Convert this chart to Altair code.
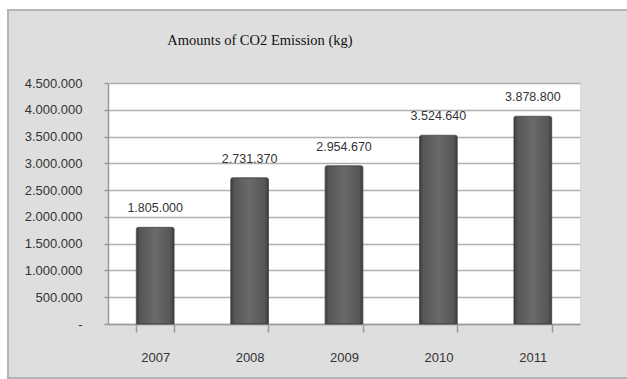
import altair as alt
import pandas as pd

years = ["2007", "2008", "2009", "2010", "2011"]
emissions = [1805000, 2731370, 2954670, 3524640, 3878800]
y_ticks = [0, 500000, 1000000, 1500000, 2000000, 2500000, 3000000, 3500000, 4000000, 4500000]
title_text = "Amounts of CO2 Emission (kg)"

labels = [f"{v:,}".replace(",", ".") for v in emissions]
df = pd.DataFrame({"year": years, "value": emissions, "label": labels})

W, H = 472, 241
PL, PT = 108, 83

one = alt.Data(values=[{}])

# white margins outside the gray chart box and the box border
white_left = alt.Chart(one).mark_rect(color="white").encode(
    x=alt.value(-PL), x2=alt.value(7 - PL), y=alt.value(-PT), y2=alt.value(379 - PT))
white_top = alt.Chart(one).mark_rect(color="white").encode(
    x=alt.value(-PL), x2=alt.value(627 - PL), y=alt.value(-PT), y2=alt.value(9 - PT))
border = alt.Chart(one).mark_rect(fill=None, fillOpacity=0, stroke="#b5b5b5", strokeWidth=2).encode(
    x=alt.value(8 - PL), x2=alt.value(700 - PL), y=alt.value(10 - PT), y2=alt.value(378 - PT))

title = alt.Chart(alt.Data(values=[{"t": title_text}])).mark_text(
    font="Liberation Serif", fontSize=14.5, color="#111", align="center", baseline="middle"
).encode(x=alt.value(260 - PL), y=alt.value(41 - PT), text="t:N")

x_enc = alt.X("year:N", sort=years,
              scale=alt.Scale(paddingInner=0.6, paddingOuter=0.3),
              axis=alt.Axis(title=None, labelAngle=0, tickBand="extent", tickSize=8,
                            tickColor="#9a9a9a", domainColor="#9a9a9a", domainWidth=1.5,
                            tickWidth=1.5, labelPadding=19, labelFont="Liberation Sans",
                            labelFontSize=13, labelColor="#333", grid=False))
y_enc = alt.Y("value:Q",
              scale=alt.Scale(domain=[0, 4500000], nice=False),
              axis=alt.Axis(title=None, values=y_ticks, grid=True, gridColor="#b0b0b0",
                            gridWidth=1.5, tickSize=4, tickColor="#9a9a9a", tickWidth=1.5,
                            domainColor="#9a9a9a", domainWidth=1.5, labelPadding=22,
                            labelOverlap=False,
                            labelFont="Liberation Sans", labelFontSize=13, labelColor="#333",
                            labelExpr="datum.value == 0 ? '-\u00a0\u00a0' : replace(format(datum.value, ','), regexp(',', 'g'), '.')"))

base = alt.Chart(df)

bars = base.mark_bar(
    color=alt.Gradient(
        gradient="linear", x1=0, x2=1, y1=0, y2=0,
        stops=[
            alt.GradientStop(offset=0, color="#3a3a3a"),
            alt.GradientStop(offset=0.1, color="#575757"),
            alt.GradientStop(offset=0.5, color="#6a6a6a"),
            alt.GradientStop(offset=0.9, color="#575757"),
            alt.GradientStop(offset=1, color="#3a3a3a"),
        ]),
    stroke="#404040", strokeWidth=0.8, cornerRadiusTopLeft=2, cornerRadiusTopRight=2,
).encode(x=x_enc, y=y_enc)

text = base.mark_text(
    font="Liberation Sans", fontSize=12.5, color="#333", baseline="middle", dy=-19
).encode(x=x_enc, y=y_enc, text="label:N")

chart = alt.layer(white_left, white_top, border, title, bars, text).properties(
    width=W, height=H,
    padding={"left": PL, "top": PT, "right": 627 - PL - W, "bottom": 379 - PT - H},
    autosize=alt.AutoSizeParams(type="none"),
    background="#dedede",
).configure_view(fill="white", strokeWidth=0)

chart.save("out.html", embed_options={"renderer": "svg", "actions": False})
